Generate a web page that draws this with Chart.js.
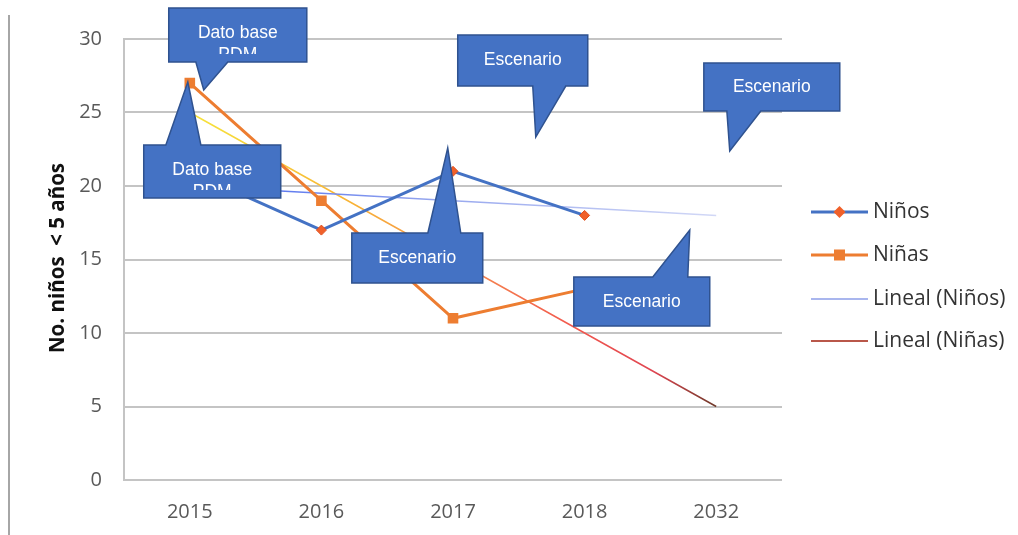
<!DOCTYPE html>
<html><head><meta charset="utf-8">
<script src="https://cdn.jsdelivr.net/npm/chart.js@4.4.1/dist/chart.umd.min.js"></script>
<style>html,body{margin:0;padding:0;background:#fff;}#wrap{width:1018px;height:535px;position:relative;}</style>
</head><body><div id="wrap"><canvas id="c" width="1018" height="535"></canvas></div>
<script>
// ---- data ----
const categories = ['2015', '2016', '2017', '2018', '2032'];
const ninos = [21, 17, 21, 18, null];
const ninas = [27, 19, 11, 13, null];
const trendNinos = [20, 19.5, 19, 18.5, 18];
const trendNinas = [25, 20, 15, 10, 5];
const yMin = 0, yMax = 30, yStep = 5;
const seriesLabels = ['Niños', 'Niñas', 'Lineal (Niños)', 'Lineal (Niñas)'];
const yTitle = 'No. niños  < 5 años';

// callouts: box (category index / value units), pointer side, base & tip
const callouts = [
  {lines: ['Dato base', 'PDM'], l: -0.160, r: 0.889, t: 32.11, b: 28.44, side: 'bottom', b1: 0.046, b2: 0.289, tx: 0.106, ty: 26.53, textY: 30.40},
  {lines: ['Dato base', 'PDM'], l: -0.350, r: 0.691, t: 22.79, b: 19.18, side: 'top', b1: -0.182, b2: 0.084, tx: -0.015, ty: 27.07, textY: 21.09},
  {lines: ['Escenario'], l: 2.036, r: 3.024, t: 30.27, b: 26.80, side: 'bottom', b1: 2.606, b2: 2.857, tx: 2.629, ty: 23.33, textY: 28.57},
  {lines: ['Escenario'], l: 3.906, r: 4.939, t: 28.37, b: 25.10, side: 'bottom', b1: 4.081, b2: 4.339, tx: 4.103, ty: 22.38, textY: 26.73},
  {lines: ['Escenario'], l: 1.231, r: 2.226, t: 16.80, b: 13.40, side: 'top', b1: 1.809, b2: 2.059, tx: 1.960, ty: 22.59, textY: 15.10},
  {lines: ['Escenario'], l: 2.918, r: 3.951, t: 13.81, b: 10.48, side: 'top', b1: 3.518, b2: 3.784, tx: 3.799, ty: 17.01, textY: 12.11}
];

const BLUE = '#4472C4', ORANGE = '#ED7D31';
const TICK_FONT = 'Open Sans';

function lineGradient(ctx, stops, fallback) {
  const chart = ctx.chart;
  const sx = chart.scales.x;
  if (!chart.chartArea || !sx) return fallback;
  const x0 = sx.getPixelForValue(0), x1 = sx.getPixelForValue(categories.length - 1);
  const g = chart.ctx.createLinearGradient(x0, 0, x1, 0);
  stops.forEach(s => g.addColorStop(s[0], s[1]));
  return g;
}
const ninasTrendStops = [[0, '#f6e43c'], [0.3, '#f8b435'], [0.5, '#f59050'], [0.72, '#f25a4e'], [0.88, '#e04652'], [1, '#6e3a2a']];
const ninosTrendStops = [[0, '#3f62f0'], [0.45, '#93a4ee'], [1, '#d2d8f6']];

const decorPlugin = {
  id: 'decor',
  beforeDraw(chart) {
    const c = chart.ctx;
    c.save();
    c.strokeStyle = '#a6a6a6'; c.lineWidth = 2;
    c.beginPath(); c.moveTo(9, 15); c.lineTo(9, 535); c.stroke();
    c.restore();
  },
  afterDraw(chart) {
    const c = chart.ctx, sx = chart.scales.x, sy = chart.scales.y;
    // y-axis title
    c.save();
    c.translate(58, 258);
    c.rotate(-Math.PI / 2);
    c.font = 'bold 20.5px "Open Sans"';
    c.fillStyle = '#111';
    c.textAlign = 'center'; c.textBaseline = 'middle';
    c.fillText(yTitle, 0, 0);
    c.restore();

    // legend
    const legY = [212, 255, 299, 341];
    const lx0 = 811, lx1 = 868, tx = 873;
    c.save();
    c.font = '21px "Open Sans"';
    c.textBaseline = 'middle'; c.textAlign = 'left';
    legY.forEach((y, i) => {
      c.beginPath();
      if (i === 0) { c.strokeStyle = BLUE; c.lineWidth = 3; }
      else if (i === 1) { c.strokeStyle = ORANGE; c.lineWidth = 3; }
      else if (i === 2) { c.strokeStyle = '#a9b6ee'; c.lineWidth = 2; }
      else { c.strokeStyle = '#b9574a'; c.lineWidth = 2; }
      c.moveTo(lx0, y); c.lineTo(lx1, y); c.stroke();
      const mx = (lx0 + lx1) / 2;
      if (i === 0) {
        c.fillStyle = '#f0602a';
        c.beginPath(); c.moveTo(mx - 6, y); c.lineTo(mx, y - 6); c.lineTo(mx + 6, y); c.lineTo(mx, y + 6); c.closePath(); c.fill();
      } else if (i === 1) {
        c.fillStyle = ORANGE; c.fillRect(mx - 5.5, y - 5.5, 11, 11);
      }
      c.fillStyle = '#333';
      c.fillText(chart.data.datasets[i].label, tx, y);
    });
    c.restore();

    // callouts
    callouts.forEach(co => {
      const L = sx.getPixelForValue(co.l), R = sx.getPixelForValue(co.r);
      const T = sy.getPixelForValue(co.t), B = sy.getPixelForValue(co.b);
      const b1 = sx.getPixelForValue(co.b1), b2 = sx.getPixelForValue(co.b2);
      const tpx = sx.getPixelForValue(co.tx), tpy = sy.getPixelForValue(co.ty);
      c.save();
      c.beginPath();
      if (co.side === 'bottom') {
        c.moveTo(L, T); c.lineTo(R, T); c.lineTo(R, B); c.lineTo(b2, B); c.lineTo(tpx, tpy); c.lineTo(b1, B); c.lineTo(L, B);
      } else {
        c.moveTo(L, T); c.lineTo(b1, T); c.lineTo(tpx, tpy); c.lineTo(b2, T); c.lineTo(R, T); c.lineTo(R, B); c.lineTo(L, B);
      }
      c.closePath();
      c.fillStyle = BLUE; c.fill();
      c.strokeStyle = '#2F528F'; c.lineWidth = 1.5; c.lineJoin = 'miter'; c.stroke();
      // text clipped by the inner text frame (bottom inset)
      c.beginPath(); c.rect(L + 2, T + 2, R - L - 4, B - T - 10); c.clip();
      c.fillStyle = '#fff'; c.font = '17.5px "Liberation Sans", Arial, sans-serif';
      c.textAlign = 'center'; c.textBaseline = 'middle';
      const ty0 = sy.getPixelForValue(co.textY);
      co.lines.forEach((t, k) => c.fillText(t, (L + R) / 2, ty0 + k * 22));
      c.restore();
    });
  }
};

new Chart(document.getElementById('c'), {
  type: 'line',
  data: {
    labels: categories,
    datasets: [
      {label: seriesLabels[0], data: ninos, borderColor: BLUE, borderWidth: 3, pointStyle: 'rectRot', pointRadius: 5,
       pointBackgroundColor: '#f0602a', pointBorderColor: '#e0501e', pointBorderWidth: 1, tension: 0, order: 0},
      {label: seriesLabels[1], data: ninas, borderColor: ORANGE, borderWidth: 3, pointStyle: 'rect', pointRadius: 7.5,
       pointBackgroundColor: ORANGE, pointBorderColor: ORANGE, pointBorderWidth: 0, tension: 0, order: 1},
      {label: seriesLabels[2], data: trendNinos, borderWidth: 1.5, pointRadius: 0, tension: 0, order: 2,
       borderColor: ctx => lineGradient(ctx, ninosTrendStops, '#9aaaf0')},
      {label: seriesLabels[3], data: trendNinas, borderWidth: 1.5, pointRadius: 0, tension: 0, order: 3,
       borderColor: ctx => lineGradient(ctx, ninasTrendStops, '#f25a4e')}
    ]
  },
  options: {
    responsive: false, animation: false, devicePixelRatio: 1,
    layout: {padding: {left: 0, top: 39, right: 236, bottom: 0}},
    plugins: {legend: {display: false}, tooltip: {enabled: false}},
    scales: {
      x: {
        offset: true,
        grid: {display: false, drawTicks: false},
        border: {display: false},
        ticks: {color: '#595959', font: {family: TICK_FONT, size: 20}, padding: 20, maxRotation: 0},
        afterFit: s => { s.height = 55; }
      },
      y: {
        min: yMin, max: yMax,
        ticks: {stepSize: yStep, color: '#595959', font: {family: TICK_FONT, size: 20}, padding: 22},
        grid: {color: '#c4c4c4', lineWidth: 2, drawTicks: false},
        border: {display: true, color: '#c4c4c4', width: 2},
        afterFit: s => { s.width = 124; }
      }
    }
  },
  plugins: [decorPlugin]
});
</script></body></html>
